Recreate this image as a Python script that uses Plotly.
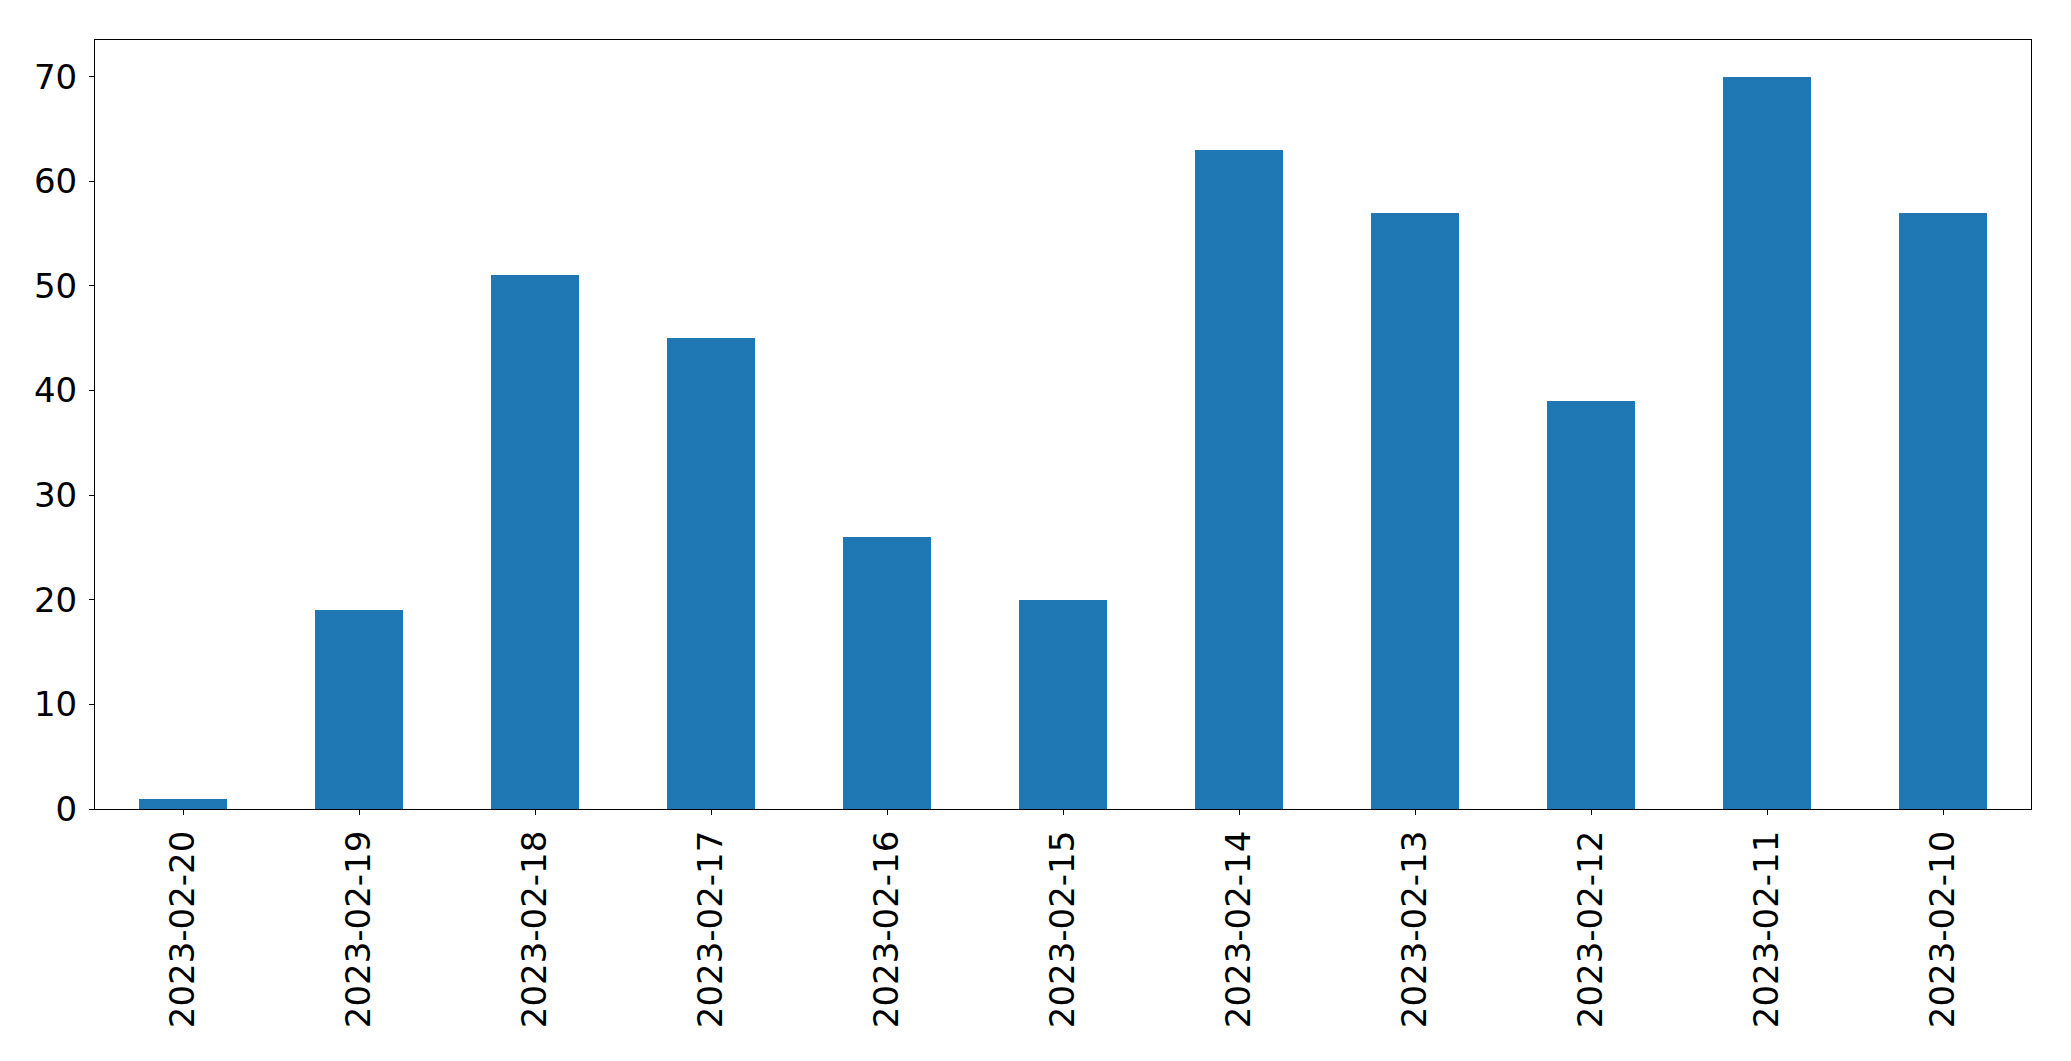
import plotly.graph_objects as go

dates = ["2023-02-20", "2023-02-19", "2023-02-18", "2023-02-17", "2023-02-16",
         "2023-02-15", "2023-02-14", "2023-02-13", "2023-02-12", "2023-02-11",
         "2023-02-10"]
counts = [1, 19, 51, 45, 26, 20, 63, 57, 39, 70, 57]
y_ticks = [0, 10, 20, 30, 40, 50, 60, 70]

fig = go.Figure(go.Bar(x=dates, y=counts, marker=dict(color="#1f77b4", line=dict(width=0)),
                       width=0.5))

fig.update_layout(
    width=2071, height=1061,
    margin=dict(l=94.5, r=39.5, t=39.5, b=252, autoexpand=False),
    paper_bgcolor="white", plot_bgcolor="white",
    font=dict(family="DejaVu Sans", size=34, color="black"),
    showlegend=False,
    bargap=0,
)
fig.update_xaxes(
    type="category", range=[-0.5, 10.5], tickangle=-90,
    showline=True, mirror=True, linecolor="black", linewidth=1.1,
    ticks="outside", ticklen=5, tickwidth=1.1, tickcolor="black",
    showgrid=False, zeroline=False, ticklabelstandoff=2, automargin=False,
)
fig.update_yaxes(
    range=[0, 73.5], tickvals=y_ticks,
    showline=True, mirror=True, linecolor="black", linewidth=1.1,
    ticks="outside", ticklen=5, tickwidth=1.1, tickcolor="black",
    showgrid=False, zeroline=False, ticklabelstandoff=5, automargin=False,
)

fig.write_html("out.html", config={"displayModeBar": False})
# remove default body margin so the figure sits at the page origin
with open("out.html", "r", encoding="utf-8") as f:
    html = f.read()
html = html.replace("<head>", "<head><style>html,body{margin:0;padding:0;overflow:hidden;}</style>", 1)
with open("out.html", "w", encoding="utf-8") as f:
    f.write(html)
